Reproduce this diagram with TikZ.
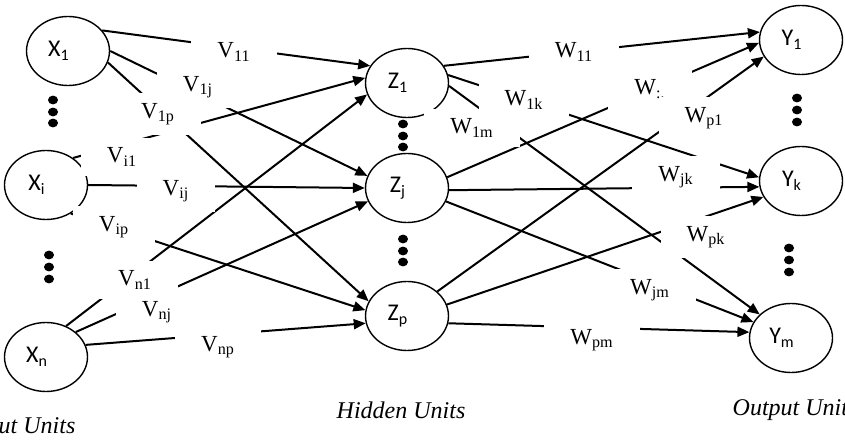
\documentclass[tikz,border=0pt]{standalone}
\usepackage{fontspec}
\setmainfont{Liberation Serif}
\newfontfamily\unitfont{Carlito}
\usetikzlibrary{arrows.meta,shapes.geometric}

\tikzset{every picture/.style={line width=1pt}}
\tikzset{
  unit/.style={draw, ellipse, line width=0.7pt, minimum width=41.5pt, minimum height=34.5pt,
    inner sep=0pt, font=\unitfont\fontsize{12}{14}\selectfont, execute at end node=\hspace{9pt}},
  weight/.style={fill=white, inner xsep=13pt, inner ysep=5pt, font=\fontsize{11.5}{13}\selectfont},
  link/.style={-{Triangle[length=6pt,width=5pt]}},
  caption/.style={font=\itshape\fontsize{12}{14}\selectfont}
}

\begin{document}
\begin{tikzpicture}[x=0.5pt,y=-0.5pt]
    \useasboundingbox (0,0) rectangle (845,442);
    % units
    \node[unit] (X1) at (68,51) {X\textsubscript{1}};
    \node[unit] (Xi) at (46,185) {X\textsubscript{i}};
    \node[unit] (Xn) at (46,357) {X\textsubscript{n}};
    \node[unit] (Z1) at (407,83) {Z\textsubscript{1}};
    \node[unit] (Zj) at (407,188) {Z\textsubscript{j}};
    \node[unit] (Zp) at (407,316) {Z\textsubscript{p}};
    \node[unit] (Y1) at (801,40) {Y\textsubscript{1}};
    \node[unit] (Yk) at (801,181) {Y\textsubscript{k}};
    \node[unit] (Ym) at (791,338) {Y\textsubscript{m}};

    \foreach \x/\y in {53/100,53/112,53/123,49/255,49/267,49/279,
                       403/124,403/136,403/147,403/239,403/251,403/262,
                       797/98,797/110,797/122,789/248,789/260,789/272}
        \fill (\x,\y) ellipse (2.5pt and 2.2pt);

    % input -> hidden
    \draw[link] (X1.31) -- (Z1.155);
    \draw[link] (X1.0) -- (Zj.163);
    \draw[link] (X1.-16) -- (Zp.159);
    \draw[link] (Xi.45) -- (Z1.173);
    \draw[link] (Xi.0) -- (Zj.180);
    \draw[link] (Xi.-49) -- (Zp.172);
    \draw[link] (Xn.57) -- (Z1.196);
    \draw[link] (Xn.40) -- (Zj.199);
    \draw[link] (Xn.17) -- (Zp.190);

    % hidden -> output
    \draw[link] (Z1.25) -- (Y1.169);
    \draw[link] (Z1.11) -- (Yk.175);
    \draw[link] (Z1.-4) -- (Ym.143);
    \draw[link] (Zj.15) -- (Y1.184);
    \draw[link] (Zj.-3) -- (Yk.188);
    \draw[link] (Zj.-19) -- (Ym.157);
    \draw[link] (Zp.39) -- (Y1.204);
    \draw[link] (Zp.16) -- (Yk.203);
    \draw[link] (Zp.-10) -- (Ym.172);

    % weights
    \node[weight] (v11) at (234,52) {V\textsubscript{11}};
    \node[weight] (v1j) at (198,87) {V\textsubscript{1j}};
    \node[weight] (v1p) at (158,114) {V\textsubscript{1p}};
    \node[weight] (vi1) at (122,157) {V\textsubscript{i1}};
    \node[weight] (vij) at (176,191) {V\textsubscript{ij}};
    \node[weight] (vip) at (114,227) {V\textsubscript{ip}};
    \node[weight] (vn1) at (135,280) {V\textsubscript{n1}};
    \node[weight] (vnj) at (157,312) {V\textsubscript{nj}};
    \node[weight] (vnp) at (218,347) {V\textsubscript{np}};
    \node[weight] (w11) at (574,52) {W\textsubscript{11}};
    \node[weight] (w1k) at (524,100) {W\textsubscript{1k}};
    \node[weight] (w1m) at (472,128) {W\textsubscript{1m}};
    \node[weight] (wj1) at (650,90) {W\textsubscript{:,}};
    \node[weight] (wp1) at (704,118) {W\textsubscript{p1}};
    \node[weight] (wjk) at (676,177) {W\textsubscript{jk}};
    \node[weight] (wpk) at (706,237) {W\textsubscript{pk}};
    \node[weight] (wjm) at (650,290) {W\textsubscript{jm}};
    \node[weight] (wpm) at (592,340) {W\textsubscript{pm}};

    \node[caption, anchor=east] (input) at (83,428) {Input Units};
    \node[caption] (hidden) at (401,410) {Hidden Units};
    \node[caption, anchor=west] (output) at (725,410) {Output Units};
\end{tikzpicture}
\end{document}
